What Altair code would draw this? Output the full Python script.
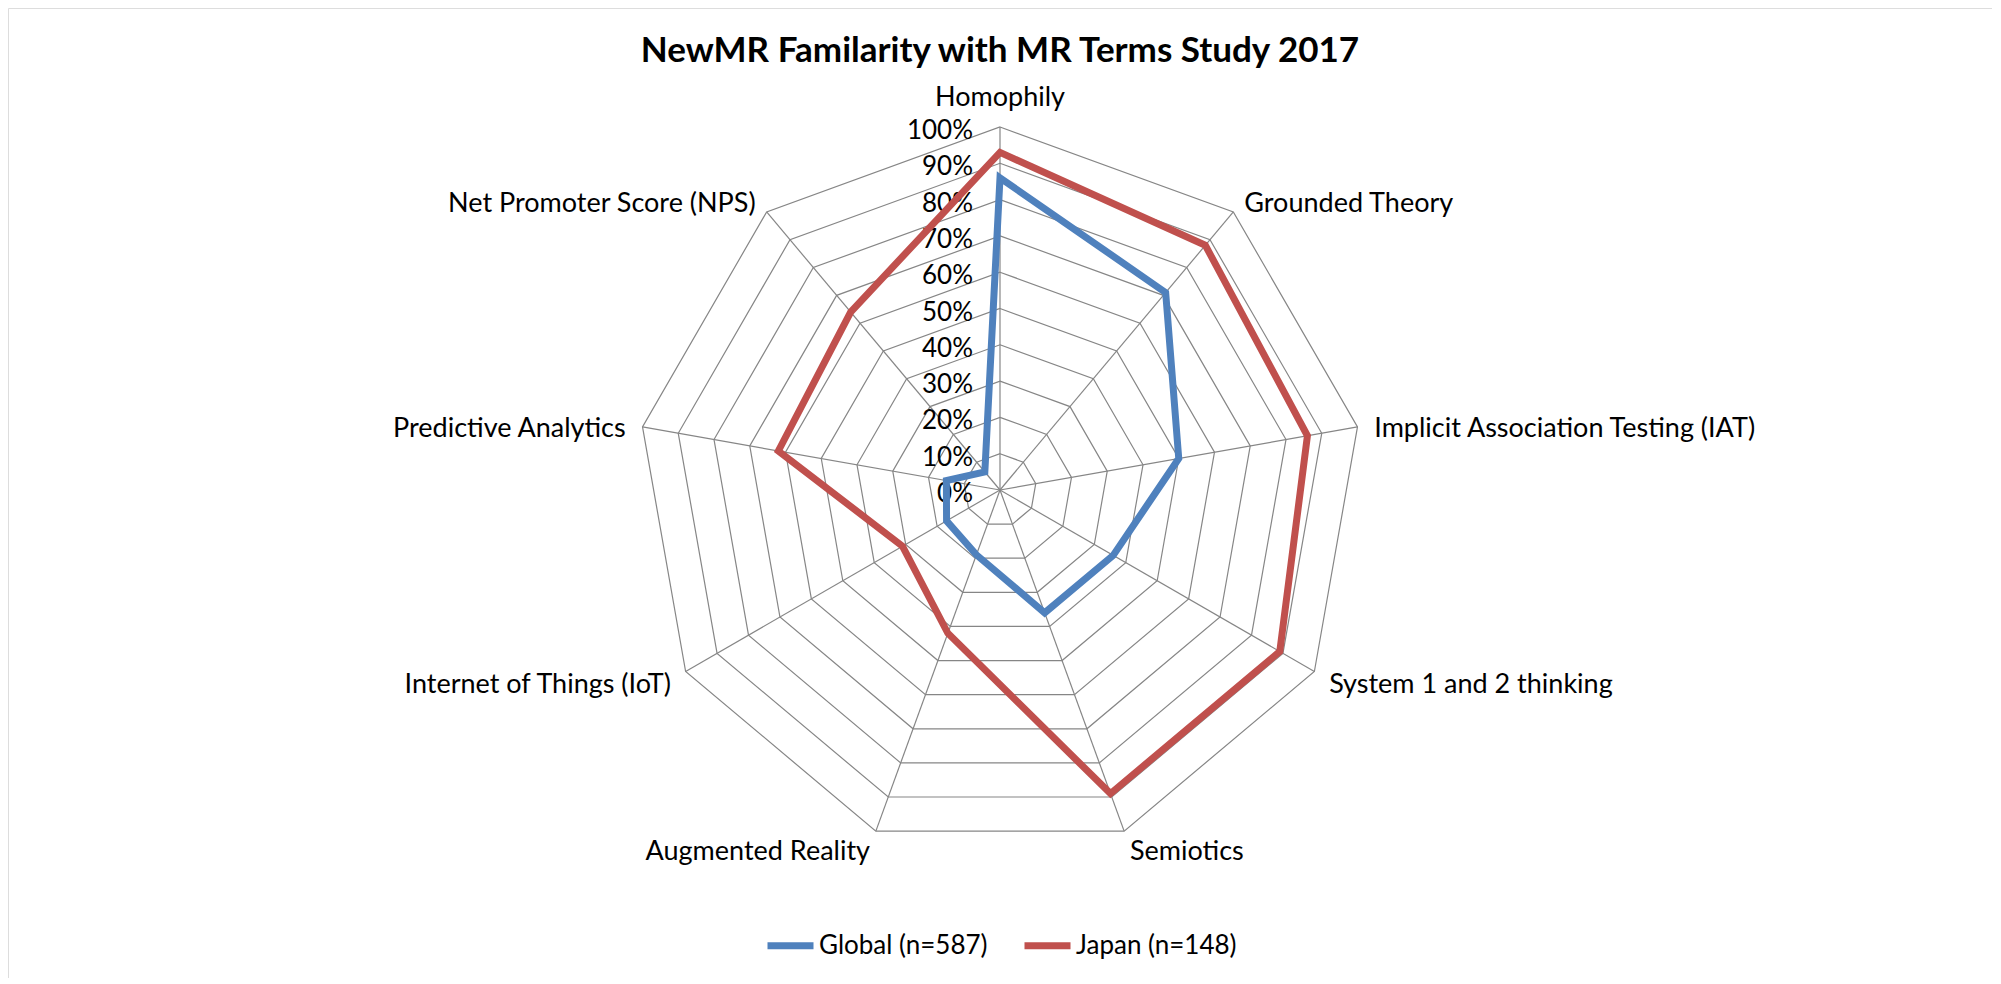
import altair as alt
import pandas as pd

# ---------------- data ----------------
categories = [
    "Homophily",
    "Grounded Theory",
    "Implicit Association Testing (IAT)",
    "System 1 and 2 thinking",
    "Semiotics",
    "Augmented Reality",
    "Internet of Things (IoT)",
    "Predictive Analytics",
    "Net Promoter Score (NPS)",
]
series_names = ["Global (n=587)", "Japan (n=148)"]
global_vals = [86, 71, 50, 36, 36, 19, 17, 15, 6.5]
japan_vals = [93, 88, 86, 89, 89, 42, 31, 62, 64]
tick_values = [0, 10, 20, 30, 40, 50, 60, 70, 80, 90, 100]
tick_labels = ["0%", "10%", "20%", "30%", "40%", "50%", "60%", "70%", "80%", "90%", "100%"]
series_colors = ["#4F81BD", "#C0504D"]

N = len(categories)

# ---------------- tables built from the arrays ----------------
cat_df = pd.DataFrame({"idx": list(range(N)), "category": categories, "value": [100] * N})

series_rows = []
for name, vals in zip(series_names, [global_vals, japan_vals]):
    for i, v in enumerate(vals):
        series_rows.append({"series": name, "idx": i, "value": v})
series_df = pd.DataFrame(series_rows)

ring_rows = []
for t in tick_values[1:]:
    for i in range(N):
        ring_rows.append({"level": t, "idx": i, "value": t})
ring_df = pd.DataFrame(ring_rows)

tick_df = pd.DataFrame({"idx": [0] * len(tick_values), "value": tick_values, "label": tick_labels})

# ---------------- polar -> cartesian via Vega expressions ----------------
ANG = f"datum.idx * 2 * PI / {N}"
def polar(chart, rfactor=1.0):
    return chart.transform_calculate(
        ang=ANG
    ).transform_calculate(
        px=f"datum.value / 100 * {rfactor} * sin(datum.ang)",
        py=f"datum.value / 100 * {rfactor} * cos(datum.ang)",
        zero="0",
    )

# geometry of the plot area (one data unit = radius of the 100% ring)
W, H = 1984, 970
R = 363.0
CX, CY = 992.0, 482.0
xdom = [-CX / R, (W - CX) / R]
ydom = [-(H - CY) / R, CY / R]

X = alt.X("px:Q", scale=alt.Scale(domain=xdom, nice=False, zero=False), axis=None)
Y = alt.Y("py:Q", scale=alt.Scale(domain=ydom, nice=False, zero=False), axis=None)

FONT = "Lato"
GRID = "#868686"
LABEL_SIZE = 27

spokes = polar(alt.Chart(cat_df)).mark_rule(color=GRID, strokeWidth=1.2).encode(
    x=X, y=Y, x2="zero:Q", y2="zero:Q"
)

rings = polar(alt.Chart(ring_df)).mark_line(
    interpolate="linear-closed", color=GRID, strokeWidth=1.2
).encode(x=X, y=Y, detail="level:N", order="idx:Q")

tick_text = polar(alt.Chart(tick_df)).mark_text(
    align="right", baseline="middle", dx=-27, dy=4, font=FONT, fontSize=26, color="black"
).encode(x=X, y=Y, text="label:N")

lines = polar(alt.Chart(series_df)).mark_line(
    interpolate="linear-closed", strokeWidth=7, strokeJoin="miter"
).encode(
    x=X,
    y=Y,
    order="idx:Q",
    color=alt.Color(
        "series:N",
        scale=alt.Scale(domain=series_names, range=series_colors),
        legend=alt.Legend(
            orient="none",
            legendX=756,
            legendY=911,
            direction="horizontal",
            title=None,
            symbolType="stroke",
            symbolSize=2116,
            symbolStrokeWidth=7,
            labelFont=FONT,
            labelFontSize=26,
            labelColor="black",
            labelLimit=0,
            labelOffset=2,
            columnPadding=22,
            padding=0,
        ),
    ),
)

LF = 1.047
lab_center = polar(alt.Chart(cat_df), LF).transform_filter("datum.idx == 0").mark_text(
    align="center", baseline="alphabetic", dy=-4, font=FONT, fontSize=LABEL_SIZE, color="black"
).encode(x=X, y=Y, text="category:N")

lab_left = polar(alt.Chart(cat_df), LF).transform_filter(
    f"datum.idx > 0 && datum.idx < {N} / 2"
).mark_text(
    align="left", baseline="middle", dy=5, font=FONT, fontSize=LABEL_SIZE, color="black"
).encode(x=X, y=Y, text="category:N")

lab_right = polar(alt.Chart(cat_df), LF).transform_filter(
    f"datum.idx > {N} / 2"
).mark_text(
    align="right", baseline="middle", dy=5, font=FONT, fontSize=LABEL_SIZE, color="black"
).encode(x=X, y=Y, text="category:N")

chart = alt.layer(
    spokes, rings, tick_text, lines, lab_center, lab_left, lab_right
).properties(
    width=W,
    height=H,
    padding=0,
    autosize=alt.AutoSizeParams(type="none"),
    title=alt.TitleParams(
        "NewMR Familarity with MR Terms Study 2017",
        font=FONT,
        fontSize=35,
        fontWeight="bold",
        color="black",
        orient="none",
        anchor="middle",
        align="center",
        frame="group",
        baseline="alphabetic",
        dx=W / 2,
        dy=54,
    ),
).configure_view(
    stroke="#8a8a8a", strokeWidth=1.5
).configure(background="white")

chart.save("out.html", embed_options={"renderer": "svg", "actions": False})
